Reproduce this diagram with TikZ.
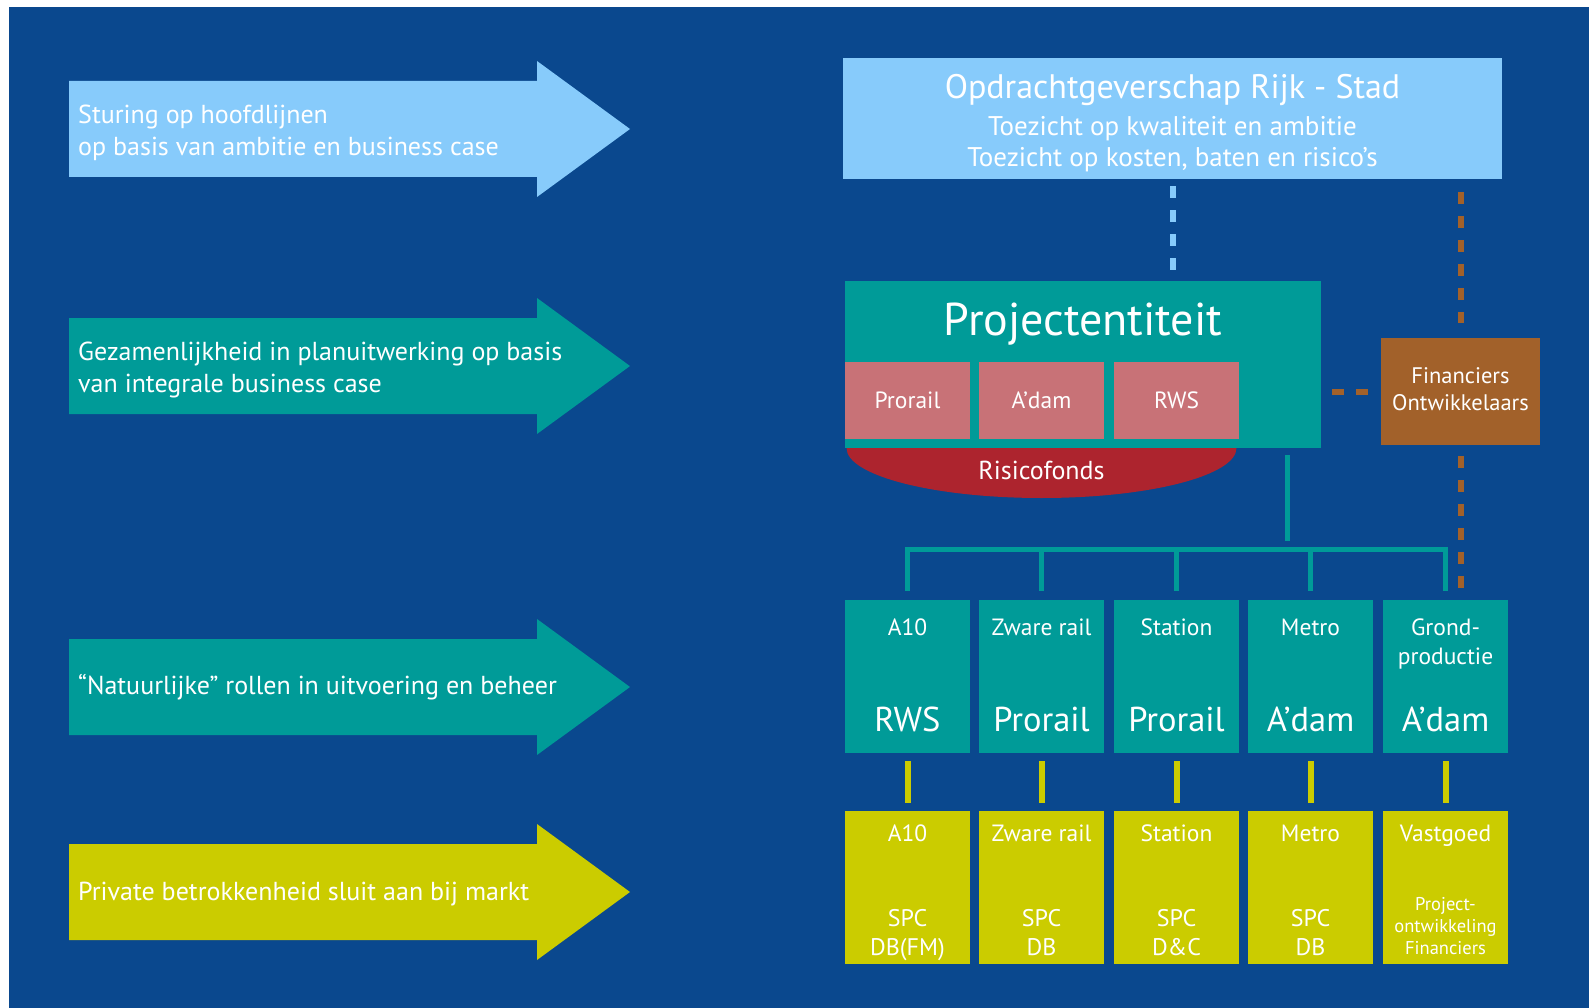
\documentclass[tikz,border=0pt]{standalone}
\usepackage{fontspec}
\setmainfont{PT Sans}
\usetikzlibrary{positioning,shapes.geometric}

\definecolor{bgblue}{HTML}{0A488E}
\definecolor{skyblue}{HTML}{87CBFB}
\definecolor{tealbox}{HTML}{009B98}
\definecolor{limebox}{HTML}{CBCC00}
\definecolor{pinkbox}{HTML}{C87277}
\definecolor{riskred}{HTML}{AD242E}
\definecolor{finbrown}{HTML}{A2612A}

\tikzset{
  armtxt/.style={anchor=west, align=left, text=white, font=\fontsize{26}{32.5}\selectfont},
  lbl/.style={text=white, align=center},
  colbox/.style={fill=#1, minimum width=125pt, minimum height=153pt},
  dashlink/.style={line width=6pt, dash pattern=on 12pt off 12pt},
}

\begin{document}
\begin{tikzpicture}[x=1pt, y=-1pt, every node/.style={inner sep=0pt}]
  \useasboundingbox (0,0) rectangle (1589,1008);
  \fill[white] (0,0) rectangle (1589,1008);
  \fill[bgblue] (9,7) rectangle (1589,1008);

  % big arrows on the left
  \foreach \yc/\col in {129/skyblue, 366/tealbox, 687/tealbox, 892/limebox} {
    \fill[\col] (69,\yc-48) -- (537,\yc-48) -- (537,\yc-68) -- (630,\yc)
      -- (537,\yc+68) -- (537,\yc+48) -- (69,\yc+48) -- cycle;
  }
  \node[armtxt] (arr1) at (78,133) {Sturing op hoofdlijnen\\op basis van ambitie en business case};
  \node[armtxt] (arr2) at (78,370) {Gezamenlijkheid in planuitwerking op basis\\van integrale business case};
  \node[armtxt] (arr3) at (78,687) {“Natuurlijke” rollen in uitvoering en beheer};
  \node[armtxt] (arr4) at (78,894) {Private betrokkenheid sluit aan bij markt};

  % opdrachtgever
  \node[fill=skyblue, minimum width=659pt, minimum height=121pt] (opdr) at (1172.5,118.5) {};
  \node[lbl, anchor=base, font=\fontsize{34}{40}\selectfont] (opdrA) at (1172.5,99) {Opdrachtgeverschap Rijk - Stad};
  \node[lbl, anchor=base, font=\fontsize{27}{30}\selectfont] (opdrB) at (1172.5,135.5) {Toezicht op kwaliteit en ambitie};
  \node[lbl, anchor=base, font=\fontsize{27}{30}\selectfont] (opdrC) at (1172.5,166.5) {Toezicht op kosten, baten en risico's};

  % projectentiteit with risicofonds
  \node[ellipse, fill=riskred, minimum width=390pt, minimum height=100pt] (risk) at (1041.5,448) {};
  \node[fill=tealbox, minimum width=476pt, minimum height=167pt] (proj) at (1083,364.5) {};
  \node[lbl, anchor=base, font=\fontsize{46}{54}\selectfont] (projA) at (1083,335) {Projectentiteit};
  \foreach \i/\xc/\txt in {1/907.5/Prorail, 2/1041.5/A'dam, 3/1176.5/RWS} {
    \node[fill=pinkbox, minimum width=125pt, minimum height=77pt] (part\i) at (\xc,400.5) {};
    \node[lbl, anchor=base, font=\fontsize{23.5}{28}\selectfont] (part\i t) at (\xc,408) {\txt};
  }
  \node[lbl, anchor=base, font=\fontsize{26}{30}\selectfont] (riskA) at (1041.5,479) {Risicofonds};

  \node[fill=finbrown, minimum width=159pt, minimum height=107pt] (fin) at (1460.5,391.5) {};
  \node[lbl, font=\fontsize{22.5}{27}\selectfont] (finA) at (1460.5,389.5) {Financiers\\Ontwikkelaars};

  % uitvoering en markt
  \foreach \i/\xc/\ta/\tb in {1/907.5/A10/RWS, 2/1041.5/Zware rail/Prorail, 3/1176.5/Station/Prorail,
      4/1310.5/Metro/A'dam, 5/1445.5/{Grond-\\productie}/A'dam} {
    \node[colbox=tealbox] (m\i) at (\xc,676.5) {};
    \node[lbl, anchor=north, font=\fontsize{23.5}{29}\selectfont] (m\i a) at (\xc,618.7) {\ta};
    \node[lbl, anchor=base, font=\fontsize{34.5}{40}\selectfont] (m\i b) at (\xc,731.6) {\tb};
  }
  \foreach \i/\xc/\ta in {1/907.5/A10, 2/1041.5/Zware rail, 3/1176.5/Station, 4/1310.5/Metro, 5/1445.5/Vastgoed} {
    \node[colbox=limebox] (p\i) at (\xc,887.5) {};
    \node[lbl, anchor=base, font=\fontsize{23.5}{29}\selectfont] (p\i a) at (\xc,841.3) {\ta};
  }
  \foreach \i/\tb in {1/DB(FM), 2/DB, 3/D\&C, 4/DB} {
    \node[lbl, anchor=north, font=\fontsize{24}{28.5}\selectfont] (p\i b) at (p\i.center |- 0,909.5) {SPC\\\tb};
  }
  \node[lbl, anchor=north, font=\fontsize{18.5}{21.7}\selectfont] (p5b) at (p5.center |- 0,897.5) {Project-\\ontwikkeling\\Financiers};

  % connectors
  \draw[dashlink, skyblue, shorten <=7pt, shorten >=8pt] (opdr.south) -- (proj.north -| opdr.south);
  \draw[dashlink, finbrown, shorten <=13pt, shorten >=15pt] (fin.north |- opdr.south) -- (fin.north);
  \draw[dashlink, finbrown, shorten <=11pt, shorten >=12pt] (fin.south) -- (fin.south |- m5.north);
  \draw[dashlink, finbrown, shorten <=11pt, shorten >=13pt] (proj.east |- fin.west) -- (fin.west);

  \coordinate (bus) at (1287,549);
  \draw[tealbox, line width=5pt, shorten <=7pt, shorten >=8pt] (bus |- proj.south) -- (bus);
  \draw[tealbox, line width=5pt, shorten <=9pt, shorten >=9pt] (m1.north) -- (m1.north |- bus) -- (m5.north |- bus) -- (m5.north);
  \foreach \i in {2,3,4} {
    \draw[tealbox, line width=5pt, shorten >=9pt] (m\i.north |- bus) -- (m\i.north);
  }
  \foreach \i in {1,...,5} {
    \draw[limebox, line width=6pt, shorten <=8pt, shorten >=8pt] (m\i.south) -- (p\i.north);
  }
\end{tikzpicture}
\end{document}
